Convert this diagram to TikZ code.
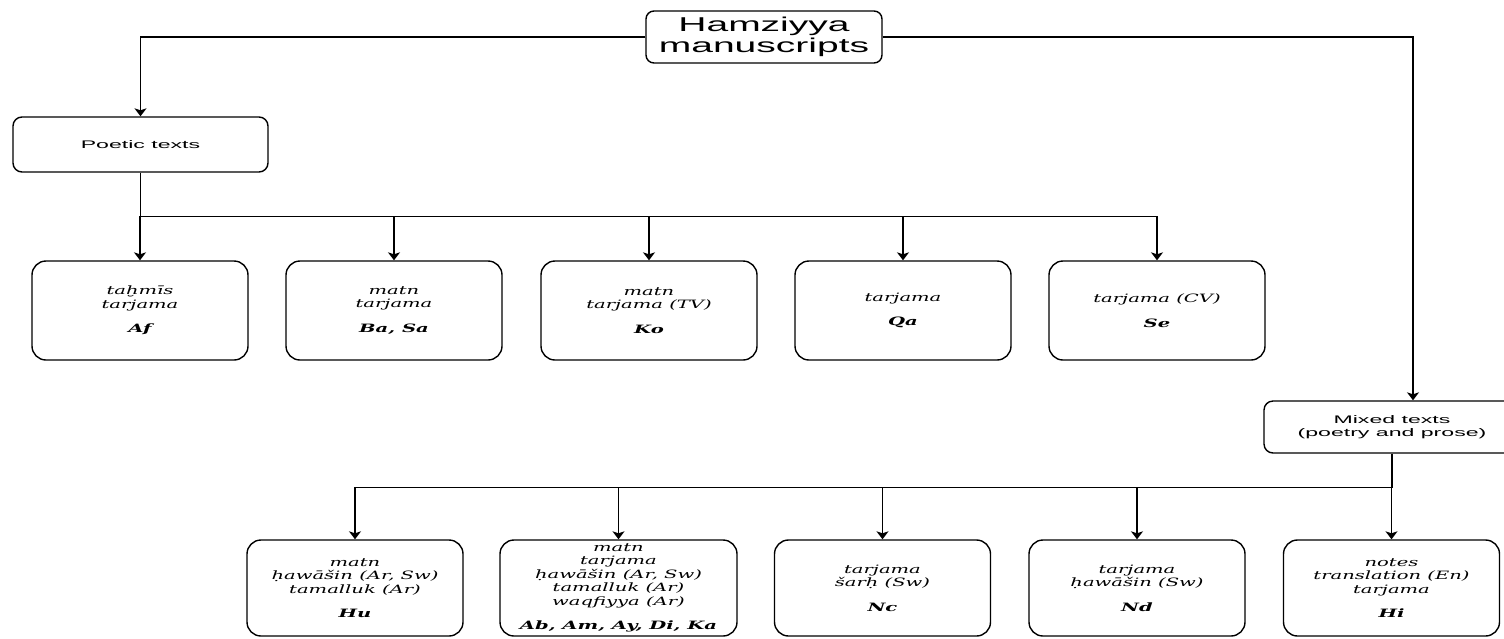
\documentclass[tikz,border=0pt]{standalone}
\usepackage{fontspec}
\setmainfont{Liberation Sans}
\newfontfamily\bigsans{Liberation Sans}[FakeStretch=1.95]
\newfontfamily\smsans{Liberation Sans}[FakeStretch=2.1]
\newfontfamily\ser{DejaVu Serif}[FakeStretch=1.7]
\usetikzlibrary{arrows.meta}
\begin{document}
\begin{tikzpicture}[x=1pt,y=-1pt,
  ln/.style={line width=1.4pt},
  arr/.style={ln,-{Stealth[length=8pt,width=12pt,inset=2pt]}},
  rootbox/.style={draw,ln,rounded corners=8pt,minimum width=236pt,minimum height=52pt,inner sep=0pt,align=center,font=\bigsans\fontsize{20}{20.5}\selectfont},
  midbox/.style={draw,ln,rounded corners=9pt,minimum height=54pt,inner sep=0pt,align=center,font=\smsans\fontsize{11}{13.5}\selectfont},
  leafbox/.style={draw,ln,rounded corners=14pt,minimum width=216pt,minimum height=99pt,inner sep=0pt,align=center,font=\ser\itshape\fontsize{11.5}{13.5}\selectfont},
  leaftwo/.style={leafbox,minimum height=96pt}
]
\useasboundingbox (0,0) rectangle (1504,638);
\clip (0,0) rectangle (1504,638);
\fill[white] (0,0) rectangle (1504,638);

\node[rootbox] (root) at (764,37) {Hamziyya\\manuscripts};
\node[midbox,minimum width=255pt,minimum height=55pt] (poetic) at (140.5,144.5) {Poetic texts};
\node[midbox,minimum width=256pt,minimum height=52pt] (mixed) at (1392,427) {Mixed texts\\(poetry and prose)};

\node[leafbox] (af) at (140,310.5) {taḫmīs\\tarjama\\[11pt]\textbf{Af}};
\node[leafbox] (ba) at (394,310.5) {matn\\tarjama\\[11pt]\textbf{Ba, Sa}};
\node[leafbox] (ko) at (649,310.5) {matn\\tarjama (TV)\\[11pt]\textbf{Ko}};
\node[leafbox] (qa) at (903,310.5) {tarjama\\[11pt]\textbf{Qa}};
\node[leafbox] (se) at (1157,310.5) {tarjama (CV)\\[11pt]\textbf{Se}};

\node[leaftwo] (hu) at (355,588) {matn\\ḥawāšin (Ar, Sw)\\tamalluk (Ar)\\[11pt]\textbf{Hu}};
\node[leaftwo,minimum width=237pt] (ab) at (618.5,588) {matn\\tarjama\\ḥawāšin (Ar, Sw)\\tamalluk (Ar)\\waqfiyya (Ar)\\[11pt]\textbf{Ab, Am, Ay, Di, Ka}};
\node[leaftwo] (nc) at (882.5,588) {tarjama\\šarḥ (Sw)\\[11pt]\textbf{Nc}};
\node[leaftwo] (nd) at (1137,588) {tarjama\\ḥawāšin (Sw)\\[11pt]\textbf{Nd}};
\node[leaftwo] (hi) at (1391.5,588) {notes\\translation (En)\\tarjama\\[11pt]\textbf{Hi}};

\draw[arr] (root.west) -| (poetic.north);
\draw[arr] (root.east) -| ([xshift=21pt]mixed.north);

\draw[ln] (poetic.south) -- ++(0,44) coordinate (busA);
\foreach \n in {af,ba,ko,qa,se} \draw[arr] (busA) -| (\n.north);

\draw[ln] (mixed.south) -- ++(0,34) coordinate (busB);
\foreach \n in {hu,ab,nc,nd,hi} \draw[arr] (busB) -| (\n.north);
\end{tikzpicture}
\end{document}
